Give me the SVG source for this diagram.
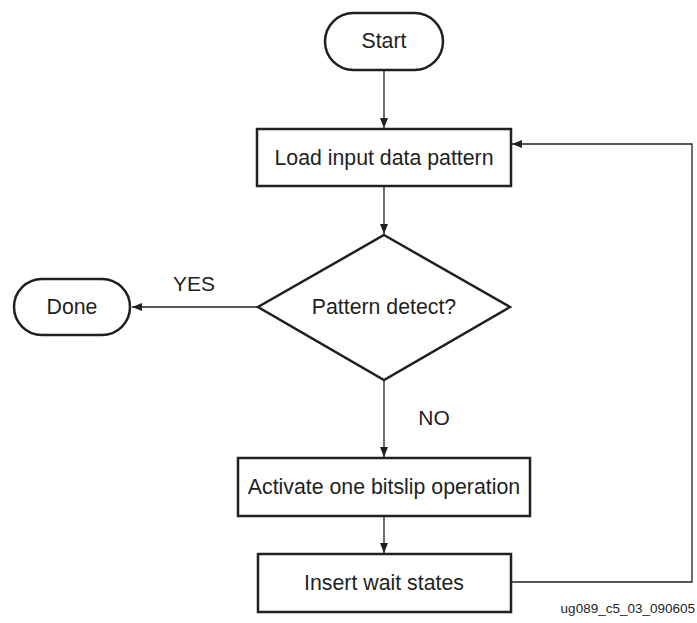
<svg xmlns="http://www.w3.org/2000/svg" width="697" height="623" viewBox="0 0 697 623">
<style>
.shape{fill:#fff;stroke:#231f20;stroke-width:2.5}
.conn{fill:none;stroke:#231f20;stroke-width:1.3}
.t{font-family:"Liberation Sans",Arial,sans-serif;font-size:21.3px;fill:#231f20;text-anchor:middle}
.lbl{font-family:"Liberation Sans",Arial,sans-serif;font-size:21px;fill:#231f20;text-anchor:middle}
.foot{font-family:"Liberation Sans",Arial,sans-serif;font-size:13.5px;fill:#231f20;text-anchor:end}
</style>
<defs>
<marker id="arr" viewBox="0 0 10 8" refX="10" refY="4" markerWidth="10" markerHeight="8" markerUnits="userSpaceOnUse" orient="auto">
<path d="M0,0 L10,4 L0,8 Z" fill="#231f20"/>
</marker>
</defs>
<g id="connectors">
<line class="conn" x1="384" y1="70" x2="384" y2="128" marker-end="url(#arr)"/>
<line class="conn" x1="384" y1="186" x2="384" y2="234" marker-end="url(#arr)"/>
<line class="conn" x1="258" y1="307" x2="132" y2="307" marker-end="url(#arr)"/>
<line class="conn" x1="384" y1="380" x2="384" y2="457" marker-end="url(#arr)"/>
<line class="conn" x1="384" y1="516" x2="384" y2="553" marker-end="url(#arr)"/>
<polyline class="conn" points="511,582 692,582 692,144 512,144" marker-end="url(#arr)"/>
<text class="lbl" x="194" y="291">YES</text>
<text class="lbl" x="434" y="425">NO</text>
</g>
<g id="start">
<rect class="shape" x="325" y="13" width="118" height="57" rx="28.5" ry="28.5"/>
<text class="t" x="384" y="48">Start</text>
</g>
<g id="load">
<rect class="shape" x="257" y="129" width="254" height="57"/>
<text class="t" x="384" y="165">Load input data pattern</text>
</g>
<g id="decision">
<polygon class="shape" points="384,235 510,307 384,380 258,307"/>
<text class="t" x="384" y="314">Pattern detect?</text>
</g>
<g id="done">
<rect class="shape" x="14" y="279" width="116" height="56" rx="28" ry="28"/>
<text class="t" x="72" y="314">Done</text>
</g>
<g id="activate">
<rect class="shape" x="238" y="458" width="292" height="58"/>
<text class="t" x="384" y="494">Activate one bitslip operation</text>
</g>
<g id="insert">
<rect class="shape" x="258" y="554" width="253" height="58"/>
<text class="t" x="384" y="590">Insert wait states</text>
</g>
<text class="foot" x="695" y="613">ug089_c5_03_090605</text>
</svg>
